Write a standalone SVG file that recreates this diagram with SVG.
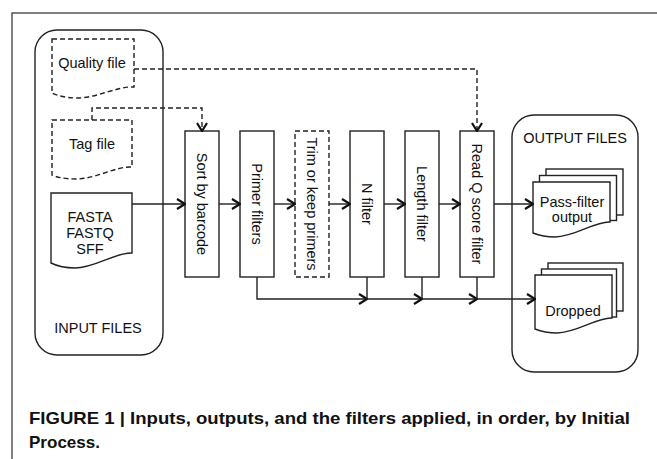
<svg xmlns="http://www.w3.org/2000/svg" width="657" height="459" viewBox="0 0 657 459">
<defs>
<style>
.frame{fill:none;stroke:#555;stroke-width:1.5}
.grp{fill:#fff;stroke:#222;stroke-width:1.4}
.box{fill:#fff;stroke:#222;stroke-width:1.4}
.dash{fill:#fff;stroke:#222;stroke-width:1.4;stroke-dasharray:5,3}
.doc{fill:#fff;stroke:#222;stroke-width:1.4}
.t{font-family:"Liberation Sans",Arial,sans-serif;font-size:14.5px;fill:#111;text-anchor:middle}
.cap{font-family:"Liberation Sans",Arial,sans-serif;font-size:17px;font-weight:bold;fill:#111}
.ln{fill:none;stroke:#222;stroke-width:1.4}
.dl{fill:none;stroke:#222;stroke-width:1.4;stroke-dasharray:5,3}
</style>
<marker id="arr" viewBox="0 0 10 12" refX="9" refY="6" markerWidth="10" markerHeight="12" markerUnits="userSpaceOnUse" orient="auto">
<path d="M1,1 L9,6 L1,11" fill="none" stroke="#111" stroke-width="2.2"/>
</marker>
</defs>
<rect width="657" height="459" fill="#fff"/>
<path class="frame" d="M12,459 V13 H657"/>

<g id="input-files">
<rect class="grp" x="35" y="30" width="128" height="325" rx="22"/>
<text class="t" x="98" y="333">INPUT FILES</text>
</g>
<g id="output-files">
<rect class="grp" x="512" y="115" width="126" height="257" rx="22"/>
<text class="t" x="575" y="143">OUTPUT FILES</text>
</g>

<g id="quality-file">
<path class="dash" d="M52,39 H134 V87 C118,86 97,98 77,98 C64,98 56,95 52,93 Z"/>
<text class="t" x="92" y="68">Quality file</text>
</g>
<g id="tag-file">
<path class="dash" d="M52,120 H132 V167 C116,166 96,179 76,179 C64,179 56,177 52,175 Z"/>
<text class="t" x="92" y="149">Tag file</text>
</g>
<g id="sequence-file">
<path class="doc" d="M51,193 H132 V253 C116,252 95,268 75,268 C63,268 55,265 51,263 Z"/>
<text class="t" x="90" y="222">FASTA</text>
<text class="t" x="90" y="238">FASTQ</text>
<text class="t" x="90" y="254">SFF</text>
</g>

<g id="sort-by-barcode">
<rect class="box" x="185" y="131" width="34" height="146"/>
<text class="t" transform="rotate(90 202 204)" x="202" y="209">Sort by barcode</text>
</g>
<g id="primer-filters">
<rect class="box" x="240" y="131" width="34" height="146"/>
<text class="t" transform="rotate(90 257 204)" x="257" y="209">Primer filters</text>
</g>
<g id="trim-primers">
<rect class="dash" x="295" y="131" width="34" height="146"/>
<text class="t" transform="rotate(90 312 204)" x="312" y="209">Trim or keep primers</text>
</g>
<g id="n-filter">
<rect class="box" x="350" y="131" width="34" height="146"/>
<text class="t" transform="rotate(90 367 204)" x="367" y="209">N filter</text>
</g>
<g id="length-filter">
<rect class="box" x="405" y="131" width="34" height="146"/>
<text class="t" transform="rotate(90 422 204)" x="422" y="209">Length filter</text>
</g>
<g id="read-q-filter">
<rect class="box" x="460" y="131" width="34" height="146"/>
<text class="t" transform="rotate(90 477 204)" x="477" y="209">Read Q score filter</text>
</g>

<g id="pass-filter-output">
<rect class="doc" x="546" y="169" width="77" height="46"/>
<rect class="doc" x="539.5" y="175.5" width="77" height="45"/>
<path class="doc" d="M533,182 H610 V222 C595,221 575,237 555,237 C545,237 538,235 533,233 Z"/>
<text class="t" x="572" y="207">Pass-filter</text>
<text class="t" x="572" y="222">output</text>
</g>
<g id="dropped">
<rect class="doc" x="548" y="263" width="75" height="48"/>
<rect class="doc" x="541.5" y="269" width="75" height="48"/>
<path class="doc" d="M535,275 H612 V318 C597,317 577,333 557,333 C547,333 540,331 535,329 Z"/>
<text class="t" x="573" y="316">Dropped</text>
</g>

<g id="connectors">
<path class="ln" d="M132,204 H185" marker-end="url(#arr)"/>
<path class="ln" d="M219,204 H240" marker-end="url(#arr)"/>
<path class="ln" d="M274,204 H295" marker-end="url(#arr)"/>
<path class="ln" d="M329,204 H350" marker-end="url(#arr)"/>
<path class="ln" d="M384,204 H405" marker-end="url(#arr)"/>
<path class="ln" d="M439,204 H460" marker-end="url(#arr)"/>
<path class="ln" d="M494,204 H533" marker-end="url(#arr)"/>
<path class="dl" d="M134,69 H477 V131" marker-end="url(#arr)"/>
<path class="dl" d="M92,120 V108 H202 V131" marker-end="url(#arr)"/>
<path class="ln" d="M257,277 V299 H367" marker-end="url(#arr)"/>
<path class="ln" d="M367,277 V299 H422" marker-end="url(#arr)"/>
<path class="ln" d="M422,277 V299 H477" marker-end="url(#arr)"/>
<path class="ln" d="M477,277 V299 H535" marker-end="url(#arr)"/>
</g>

<g id="caption">
<text class="cap" x="29" y="424" textLength="601" lengthAdjust="spacingAndGlyphs">FIGURE 1 | Inputs, outputs, and the filters applied, in order, by Initial</text>
<text class="cap" x="29" y="448" textLength="71" lengthAdjust="spacingAndGlyphs">Process.</text>
</g>
</svg>
